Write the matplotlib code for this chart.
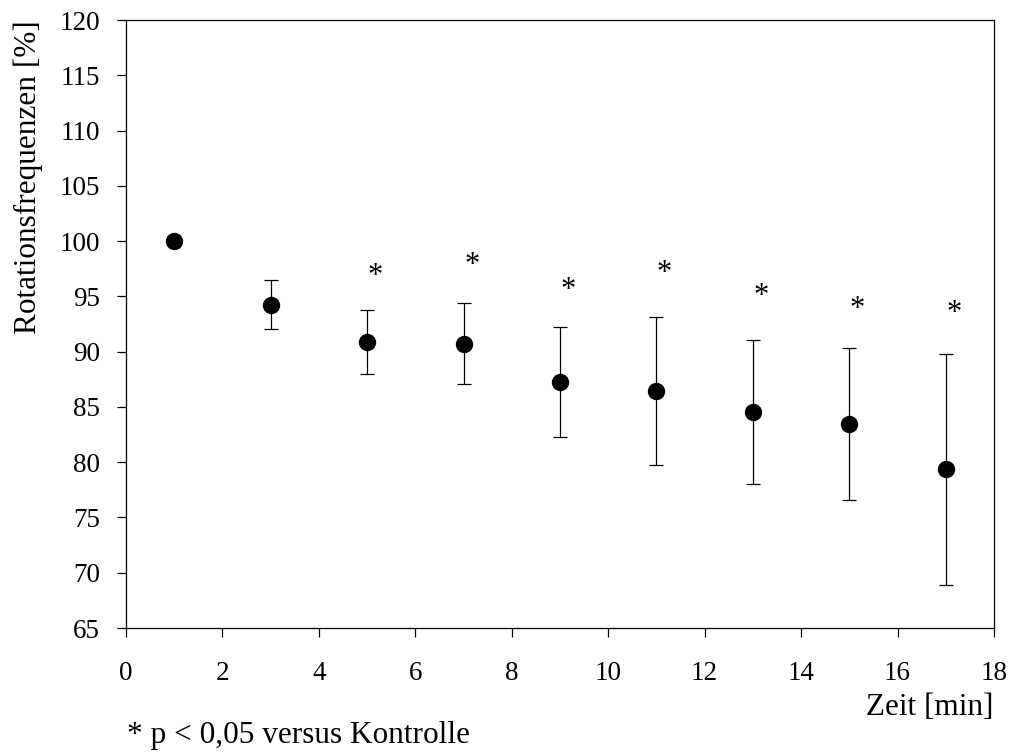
import matplotlib
matplotlib.use('Agg')
import matplotlib.pyplot as plt

plt.rcParams['font.family'] = ['Liberation Serif', 'DejaVu Serif']

# Daten
zeit = [1, 3, 5, 7, 9, 11, 13, 15, 17]
mittel = [100.0, 94.25, 90.87, 90.69, 87.29, 86.44, 84.52, 83.50, 79.34]
oben = [100.0, 96.45, 93.74, 94.37, 92.26, 93.11, 91.05, 90.33, 89.79]
unten = [100.0, 92.02, 87.98, 87.05, 82.26, 79.76, 77.99, 76.59, 68.89]

stern_x = [5.17, 7.17, 9.17, 11.17, 13.17, 15.17, 17.17]
stern_y = [97.05, 98.08, 95.84, 97.35, 95.25, 94.10, 93.74]

fehler_oben = [o - m for o, m in zip(oben, mittel)]
fehler_unten = [m - u for m, u in zip(mittel, unten)]

fig = plt.figure(figsize=(10.15, 7.53), dpi=100)
ax = fig.add_axes([0.1241, 0.166, 0.8552, 0.8074])

# Fehlerbalken nur wo vorhanden
ax.errorbar(zeit[1:], mittel[1:], yerr=[fehler_unten[1:], fehler_oben[1:]],
            fmt='none', ecolor='black', elinewidth=0.9, capsize=5, capthick=0.9)
ax.plot(zeit, mittel, 'o', color='black', markersize=11.5, zorder=3)

for sx, sy in zip(stern_x, stern_y):
    ax.annotate('*', (sx, sy), xytext=(0, -7.7), textcoords='offset points',
                ha='center', va='baseline', fontsize=22)

ax.set_xlim(0, 18)
ax.set_ylim(65, 120)
ax.set_xticks(range(0, 19, 2))
ax.set_yticks(range(65, 121, 5))
ax.tick_params(direction='out', length=6.5, width=0.9, labelsize=19.5, pad=12)
ax.tick_params(axis='x', pad=17)
for s in ax.spines.values():
    s.set_linewidth(0.9)

ax.set_ylabel('Rotationsfrequenzen [%]', fontsize=22.5, loc='top', labelpad=12)
fig.text(0.9793, 0.06, 'Zeit [min]', ha='right', va='center', fontsize=22.5)
fig.text(0.125, 0.004, '* p < 0,05 versus Kontrolle', ha='left', va='bottom',
         fontsize=22.5)

fig.savefig('out.png', dpi=100)
